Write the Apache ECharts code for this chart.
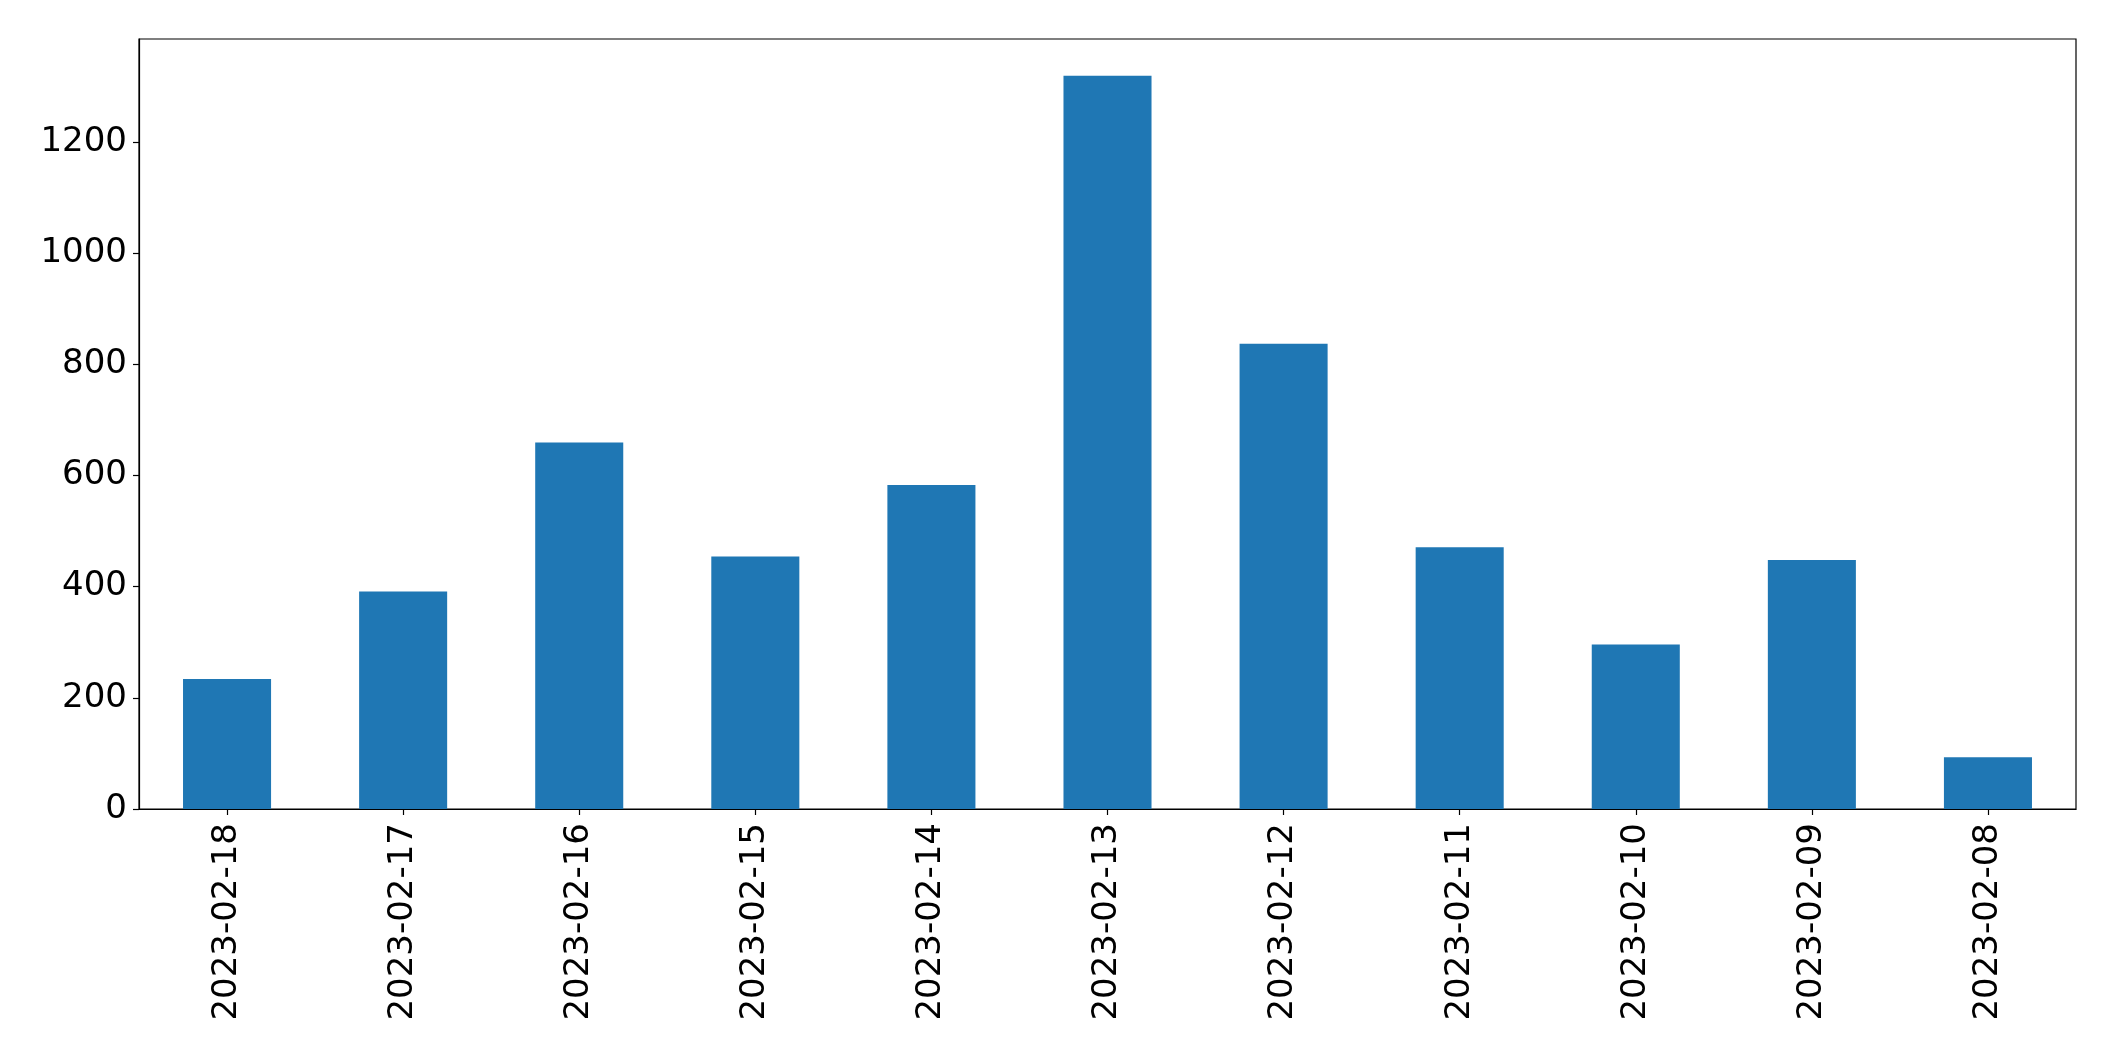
<!DOCTYPE html>
<html>
<head>
<meta charset="utf-8">
<script src="https://cdn.jsdelivr.net/npm/echarts@6/dist/echarts.min.js"></script>
<style>
html,body{margin:0;padding:0;background:#fff;}
#chart{width:2115px;height:1061px;}
</style>
</head>
<body>
<div id="chart"></div>
<script>
const categories = ['2023-02-18','2023-02-17','2023-02-16','2023-02-15','2023-02-14','2023-02-13','2023-02-12','2023-02-11','2023-02-10','2023-02-09','2023-02-08'];
const values = [234, 391, 659, 454, 583, 1319, 837, 471, 296, 448, 93];
const yTicks = [0, 200, 400, 600, 800, 1000, 1200];

const chart = echarts.init(document.getElementById('chart'), null, {renderer: 'canvas'});
const font = 'DejaVu Sans';
chart.setOption({
  animation: false,
  backgroundColor: '#ffffff',
  grid: {left: 139, right: 39, top: 39, bottom: 252, show: true, borderColor: '#000', borderWidth: 1.2, containLabel: false},
  xAxis: {
    type: 'category',
    data: categories,
    boundaryGap: true,
    axisLine: {show: true, lineStyle: {color: '#000', width: 1.2}},
    axisTick: {show: true, alignWithLabel: true, length: 6, lineStyle: {color: '#000', width: 1.2}},
    axisLabel: {rotate: 90, margin: 14, color: '#000', fontFamily: font, fontSize: 34, interval: 0},
    splitLine: {show: false}
  },
  yAxis: {
    type: 'value',
    min: 0,
    max: 1385,
    interval: 200,
    axisLine: {show: true, lineStyle: {color: '#000', width: 1.2}},
    axisTick: {show: true, length: 6, lineStyle: {color: '#000', width: 1.2}, customValues: yTicks},
    axisLabel: {margin: 12, color: '#000', fontFamily: font, fontSize: 34, customValues: yTicks,
      formatter: function (v) { return String(v); }},
    splitLine: {show: false}
  },
  series: [{
    type: 'bar',
    data: values,
    barWidth: '50%',
    itemStyle: {color: '#1f77b4'}
  }]
});
</script>
</body>
</html>
